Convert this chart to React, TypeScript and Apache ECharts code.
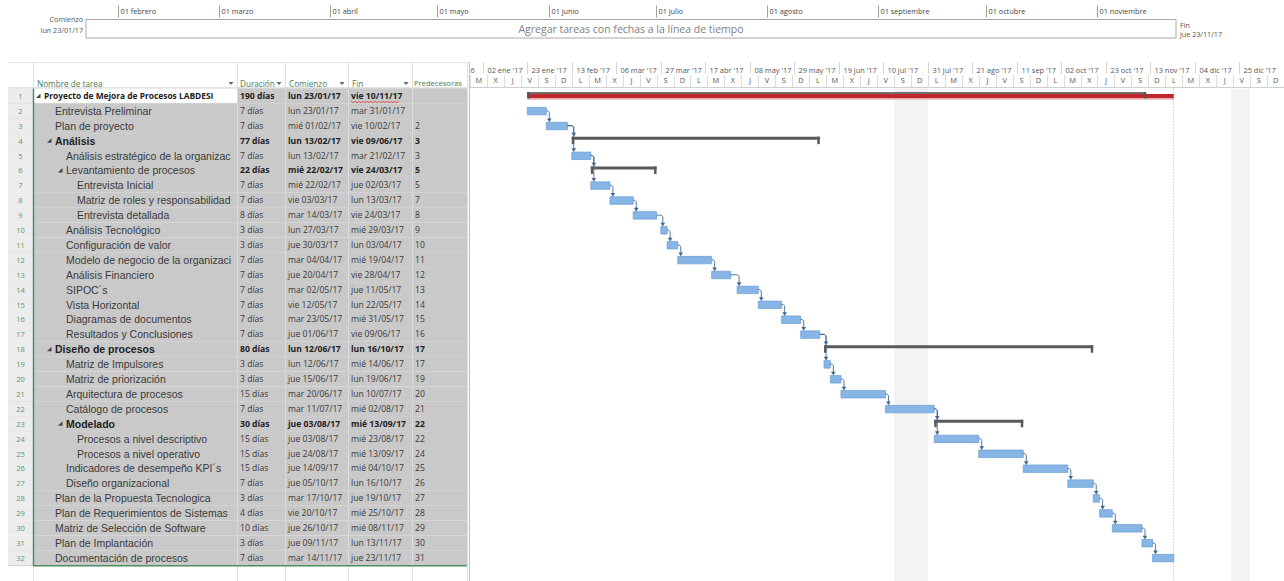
import React, { useEffect, useRef } from 'react';
import * as echarts from 'echarts';

// ---------------- DATA ----------------
const taskNames = [
  'Proyecto de Mejora de Procesos LABDESI',
  'Entrevista Preliminar',
  'Plan de proyecto',
  'Análisis',
  'Análisis estratégico de la organizac',
  'Levantamiento de procesos',
  'Entrevista Inicial',
  'Matriz de roles y responsabilidad',
  'Entrevista detallada',
  'Análisis Tecnológico',
  'Configuración de valor',
  'Modelo de negocio de la organizaci',
  'Análisis Financiero',
  'SIPOC´s',
  'Vista Horizontal',
  'Diagramas de documentos',
  'Resultados y Conclusiones',
  'Diseño de procesos',
  'Matriz de Impulsores',
  'Matriz de priorización',
  'Arquitectura de procesos',
  'Catálogo de procesos',
  'Modelado',
  'Procesos a nivel descriptivo',
  'Procesos a nivel operativo',
  'Indicadores de desempeño KPI´s',
  'Diseño organizacional',
  'Plan de la Propuesta Tecnologica',
  'Plan de Requerimientos de Sistemas',
  'Matriz de Selección de Software',
  'Plan de Implantación',
  'Documentación de procesos',
];
const taskLevels = [0, 1, 1, 1, 2, 2, 3, 3, 3, 2, 2, 2, 2, 2, 2, 2, 2, 1, 2, 2, 2, 2, 2, 3, 3, 2, 2, 1, 1, 1, 1, 1];
const summaryFlags = [1, 0, 0, 1, 0, 1, 0, 0, 0, 0, 0, 0, 0, 0, 0, 0, 0, 1, 0, 0, 0, 0, 1, 0, 0, 0, 0, 0, 0, 0, 0, 0];
const boldNameFlags = [1, 0, 0, 1, 0, 0, 0, 0, 0, 0, 0, 0, 0, 0, 0, 0, 0, 1, 0, 0, 0, 0, 1, 0, 0, 0, 0, 0, 0, 0, 0, 0];
const durations = ['190 días', '7 días', '7 días', '77 días', '7 días', '22 días', '7 días', '7 días', '8 días', '3 días', '3 días', '7 días', '7 días', '7 días', '7 días', '7 días', '7 días', '80 días', '3 días', '3 días', '15 días', '7 días', '30 días', '15 días', '15 días', '15 días', '7 días', '3 días', '4 días', '10 días', '3 días', '7 días'];
const startLabels = ['lun 23/01/17', 'lun 23/01/17', 'mié 01/02/17', 'lun 13/02/17', 'lun 13/02/17', 'mié 22/02/17', 'mié 22/02/17', 'vie 03/03/17', 'mar 14/03/17', 'lun 27/03/17', 'jue 30/03/17', 'mar 04/04/17', 'jue 20/04/17', 'mar 02/05/17', 'vie 12/05/17', 'mar 23/05/17', 'jue 01/06/17', 'lun 12/06/17', 'lun 12/06/17', 'jue 15/06/17', 'mar 20/06/17', 'mar 11/07/17', 'jue 03/08/17', 'jue 03/08/17', 'jue 24/08/17', 'jue 14/09/17', 'jue 05/10/17', 'mar 17/10/17', 'vie 20/10/17', 'jue 26/10/17', 'jue 09/11/17', 'mar 14/11/17'];
const finishLabels = ['vie 10/11/17', 'mar 31/01/17', 'vie 10/02/17', 'vie 09/06/17', 'mar 21/02/17', 'vie 24/03/17', 'jue 02/03/17', 'lun 13/03/17', 'vie 24/03/17', 'mié 29/03/17', 'lun 03/04/17', 'mié 19/04/17', 'vie 28/04/17', 'jue 11/05/17', 'lun 22/05/17', 'mié 31/05/17', 'vie 09/06/17', 'lun 16/10/17', 'mié 14/06/17', 'lun 19/06/17', 'lun 10/07/17', 'mié 02/08/17', 'mié 13/09/17', 'mié 23/08/17', 'mié 13/09/17', 'mié 04/10/17', 'lun 16/10/17', 'jue 19/10/17', 'mié 25/10/17', 'mié 08/11/17', 'lun 13/11/17', 'jue 23/11/17'];
const predecessors = ['', '', '2', '3', '3', '5', '5', '7', '8', '9', '10', '11', '12', '13', '14', '15', '16', '17', '17', '19', '20', '21', '22', '22', '24', '25', '26', '27', '28', '29', '30', '31'];
const headerLabels = ['Nombre de tarea', 'Duración', 'Comienzo', 'Fin', 'Predecesoras'];

const timelineStartLabel = 'lun 23/01/17';
const timelineFinishLabel = 'jue 23/11/17';
const timelinePlaceholder = 'Agregar tareas con fechas a la línea de tiempo';
const monthTicks: [string, string][] = [
  ['2017-02-01', '01 febrero'], ['2017-03-01', '01 marzo'], ['2017-04-01', '01 abril'],
  ['2017-05-01', '01 mayo'], ['2017-06-01', '01 junio'], ['2017-07-01', '01 julio'],
  ['2017-08-01', '01 agosto'], ['2017-09-01', '01 septiembre'], ['2017-10-01', '01 octubre'],
  ['2017-11-01', '01 noviembre'],
];
const majorTicks: [string, string][] = [
  ['2016-12-12', "12 dic '16"], ['2017-01-02', "02 ene '17"], ['2017-01-23', "23 ene '17"],
  ['2017-02-13', "13 feb '17"], ['2017-03-06', "06 mar '17"], ['2017-03-27', "27 mar '17"],
  ['2017-04-17', "17 abr '17"], ['2017-05-08', "08 may '17"], ['2017-05-29', "29 may '17"],
  ['2017-06-19', "19 jun '17"], ['2017-07-10', "10 jul '17"], ['2017-07-31', "31 jul '17"],
  ['2017-08-21', "21 ago '17"], ['2017-09-11', "11 sep '17"], ['2017-10-02', "02 oct '17"],
  ['2017-10-23', "23 oct '17"], ['2017-11-13', "13 nov '17"], ['2017-12-04', "04 dic '17"],
  ['2017-12-25', "25 dic '17"],
];
const weekdayLetters = ['D', 'L', 'M', 'X', 'J', 'V', 'S'];
const nonWorkingPeriods: [string, string][] = [['2017-07-15', '2017-07-31'], ['2017-12-21', '2017-12-30']];
const ganttRange: [string, string] = ['2016-12-27', '2018-01-15'];
const minorStepDays = 8;

// ---------------- HELPERS ----------------
const DAY = 86400000;
const iso = (s: string) => { const [y, m, d] = s.split('-').map(Number); return Date.UTC(y, m - 1, d); };
const parseLabel = (s: string) => { const d = s.split(' ')[1]; const [dd, mm, yy] = d.split('/').map(Number); return Date.UTC(2000 + yy, mm - 1, dd); };

const W = 1284, H = 581;
const ROW_TOP = 88.5, ROW_H = 14.9, NROWS = taskNames.length;
const GL = 470, GW = 814;
const TL_L = 86, TL_T = 19.5, TL_W = 1090, TL_H = 18.5;
const COLS = [33, 237, 285, 348, 412, 467];
const UI = '"Open Sans", "Noto Sans", sans-serif';
const NAMEF = '"Liberation Sans", Arial, sans-serif';
const TXT = '#333333';
const BLUE_F = '#86b5e6', BLUE_S = '#6a9dd2', LINK = '#44698f', SUMC = '#5a5a5a';

const txt = (text: string, x: number, y: number, o: any = {}) => ({
  type: 'text', x, y, silent: true, z2: o.z2 ?? 5,
  style: {
    text, fill: o.fill ?? TXT, fontSize: o.size ?? 9, fontFamily: o.family ?? UI,
    fontWeight: o.weight ?? 'normal', align: o.align ?? 'left', verticalAlign: 'middle',
    ...(o.width ? { width: o.width, overflow: 'truncate', ellipsis: '' } : {}),
  },
});
const ln = (x1: number, y1: number, x2: number, y2: number, stroke: string, lw = 1, extra: any = {}) => ({
  type: 'line', silent: true, shape: { x1, y1, x2, y2 }, style: { stroke, lineWidth: lw, ...extra },
});

function buildOption() {
  const rowCats = taskNames.map((_, i) => String(i + 1));
  const axisMin = iso(ganttRange[0]), axisMax = iso(ganttRange[1]);
  const tlMin = parseLabel(timelineStartLabel), tlMax = parseLabel(timelineFinishLabel);
  const projectEnd = parseLabel(timelineFinishLabel) + DAY;

  const barData = taskNames.map((_, i) => {
    const s = parseLabel(startLabels[i]);
    const e = parseLabel(finishLabels[i]) + DAY;
    const kind = i === 0 ? 2 : summaryFlags[i] ? 1 : 0;
    return [i, s, e, kind, i === 0 ? projectEnd : e];
  });
  const linkData: number[][] = [];
  predecessors.forEach((p, i) => {
    if (!p) return;
    const pr = Number(p) - 1;
    linkData.push([pr, parseLabel(finishLabels[pr]) + DAY, i, parseLabel(startLabels[i]), summaryFlags[i]]);
  });
  const minorCells: number[][] = [];
  for (let t = axisMin; t < axisMax; t += minorStepDays * DAY) minorCells.push([t, 0]);

  const g: any[] = [];
  g.push({ type: 'rect', shape: { x: TL_L, y: TL_T, width: TL_W, height: TL_H }, style: { fill: '#fff', stroke: '#a8a8a8', lineWidth: 1 }, silent: true });
  g.push(txt(timelinePlaceholder, TL_L + TL_W / 2, TL_T + TL_H / 2 + 0.5, { size: 10.5, fill: '#808080', align: 'center' }));
  g.push(txt('Comienzo', 83, 19, { size: 7.2, fill: '#555', align: 'right' }));
  g.push(txt(timelineStartLabel, 83, 30, { size: 7.2, fill: '#555', align: 'right' }));
  g.push(txt('Fin', 1180, 25, { size: 7.2, fill: '#555' }));
  g.push(txt(timelineFinishLabel, 1180, 33.5, { size: 7.2, fill: '#555' }));
  g.push(ln(8, 62.5, 467, 62.5, '#e4e4e4'));
  COLS.forEach((x) => g.push(ln(x + 0.5, 62, x + 0.5, 88, '#dedede')));
  g.push(ln(8, 88, 467, 88, '#c8c8c8'));
  const hx = [37, 240, 289, 352, 414];
  headerLabels.forEach((h, k) => g.push(txt(h, hx[k], 83, { size: k === 4 ? 7.6 : 8.2, fill: '#4a7d58' })));
  [231, 279, 342, 406].forEach((x) => g.push({ type: 'polygon', silent: true, shape: { points: [[x - 2.5, 82], [x + 2.5, 82], [x, 85]] }, style: { fill: '#666' } }));
  g.push(ln(GL, 87.5, W, 87.5, '#cfcfcf'));
  g.push(ln(469.5, 62, 469.5, H, '#c4c4c4'));
  COLS.forEach((x) => g.push(ln(x + 0.5, ROW_TOP + NROWS * ROW_H, x + 0.5, H, '#e2e2e2')));
  g.push({ ...ln(33.5, ROW_TOP, 33.5, ROW_TOP + NROWS * ROW_H + 0.5, '#4f8f5f', 1.5), z: 10 });
  g.push({ ...ln(33, ROW_TOP + NROWS * ROW_H + 0.5, 467, ROW_TOP + NROWS * ROW_H + 0.5, '#4f8f5f', 1.5), z: 10 });

  return {
    animation: false,
    backgroundColor: '#ffffff',
    grid: [
      { left: GL, top: ROW_TOP, width: GW, height: NROWS * ROW_H },
      { left: GL, top: 62, width: GW, height: 26 },
      { left: TL_L, top: TL_T, width: TL_W, height: TL_H },
      { left: 8, top: ROW_TOP, width: 459, height: NROWS * ROW_H },
    ],
    xAxis: [
      { gridIndex: 0, type: 'time', min: axisMin, max: axisMax, show: false },
      { gridIndex: 1, type: 'time', min: axisMin, max: axisMax, show: false },
      { gridIndex: 2, type: 'time', min: tlMin, max: tlMax, show: false },
      { gridIndex: 3, type: 'value', min: 0, max: 459, show: false },
    ],
    yAxis: [
      { gridIndex: 0, type: 'category', data: rowCats, inverse: true, show: false },
      { gridIndex: 1, type: 'value', min: 0, max: 1, show: false },
      { gridIndex: 2, type: 'value', min: 0, max: 1, show: false },
      { gridIndex: 3, type: 'category', data: rowCats, inverse: true, show: false },
    ],
    graphic: { elements: g },
    series: [
      {
        type: 'custom', xAxisIndex: 0, yAxisIndex: 0, clip: false, silent: true, z: 1,
        data: nonWorkingPeriods.map(([a, b]) => [iso(a), iso(b), 0]),
        encode: { x: [0, 1], y: 2 },
        renderItem: (params: any, api: any) => {
          const x0 = api.coord([api.value(0), 0])[0];
          const x1 = api.coord([api.value(1), 0])[0];
          const cs = params.coordSys;
          return { type: 'rect', shape: { x: x0, y: cs.y, width: x1 - x0, height: H - cs.y }, style: { fill: '#f3f3f3' } };
        },
      },
      {
        type: 'custom', xAxisIndex: 0, yAxisIndex: 0, clip: false, silent: true, z: 1,
        data: [[projectEnd, 0]],
        encode: { x: 0, y: 1 },
        renderItem: (params: any, api: any) => {
          const x = Math.round(api.coord([api.value(0), 0])[0]) - 0.5;
          const cs = params.coordSys;
          return ln(x, cs.y, x, H, '#b5b5b5', 1, { lineDash: [1, 2] });
        },
      },
      {
        type: 'custom', xAxisIndex: 0, yAxisIndex: 0, clip: false, silent: true, z: 3,
        data: barData,
        encode: { x: [1, 2], y: 0 },
        renderItem: (params: any, api: any) => {
          const i = api.value(0), s = api.value(1), e = api.value(2), k = api.value(3), red = api.value(4);
          const [x0, cy] = api.coord([s, i]);
          const x1 = api.coord([e, i])[0];
          if (k === 0) {
            return { type: 'rect', shape: { x: x0, y: cy - 3.5, width: x1 - x0, height: 7.5 }, style: { fill: BLUE_F, stroke: BLUE_S, lineWidth: 0.7 } };
          }
          const summary = (yTop: number, col: string) => [
            { type: 'rect', shape: { x: x0, y: yTop, width: x1 - x0, height: 3 }, style: { fill: col } },
            { type: 'rect', shape: { x: x0, y: yTop, width: 2.5, height: 7.5 }, style: { fill: col } },
            { type: 'rect', shape: { x: x1 - 2.5, y: yTop, width: 2.5, height: 7.5 }, style: { fill: col } },
          ];
          if (k === 1) return { type: 'group', children: summary(cy - 4, SUMC) };
          const xr = api.coord([red, i])[0];
          return {
            type: 'group',
            children: [
              { type: 'rect', shape: { x: x0, y: cy - 2, width: xr - x0, height: 4.5 }, style: { fill: '#c4262e' } },
              { type: 'rect', shape: { x: x0, y: cy + 2.5, width: xr - x0, height: 1.5 }, style: { fill: '#f1c6c8' } },
              { type: 'rect', shape: { x: x0, y: cy - 4, width: x1 - x0, height: 2 }, style: { fill: '#707070' } },
              { type: 'rect', shape: { x: x0, y: cy - 4, width: 2.5, height: 6.5 }, style: { fill: '#555' } },
              { type: 'rect', shape: { x: x1 - 2.5, y: cy - 4, width: 2.5, height: 6.5 }, style: { fill: '#555' } },
            ],
          };
        },
      },
      {
        type: 'custom', xAxisIndex: 0, yAxisIndex: 0, clip: false, silent: true, z: 4,
        data: linkData,
        encode: { x: [1, 3], y: [0, 2] },
        renderItem: (params: any, api: any) => {
          const pr = api.value(0), pe = api.value(1), sr = api.value(2), ss = api.value(3), sk = api.value(4);
          const [xe, yp] = api.coord([pe, pr]);
          const [xs, ys] = api.coord([ss, sr]);
          const vx = Math.max(xe + 3, xs + 2);
          const top = sk === 1 ? ys - 4 : ys - 3.5;
          return {
            type: 'group',
            children: [
              { type: 'polyline', shape: { points: [[xe, yp], [vx - 1.5, yp], [vx, yp + 1.5], [vx, top - 3]] }, style: { stroke: LINK, lineWidth: 0.9, fill: null } },
              { type: 'polygon', shape: { points: [[vx - 2.3, top - 3.8], [vx + 2.3, top - 3.8], [vx, top]] }, style: { fill: LINK } },
            ],
          };
        },
      },
      {
        type: 'custom', xAxisIndex: 1, yAxisIndex: 1, clip: true, silent: true,
        data: majorTicks.map(([d]) => [iso(d), 0]),
        encode: { x: 0, y: 1 },
        renderItem: (params: any, api: any) => {
          const x = Math.round(api.coord([api.value(0), 0])[0]) + 0.5;
          const cs = params.coordSys;
          return {
            type: 'group',
            children: [
              ln(x, cs.y, x, cs.y + 12, '#d6d6d6'),
              txt(majorTicks[params.dataIndex][1], x + 4, cs.y + 7.5, { size: 7.4, fill: '#555' }),
            ],
          };
        },
      },
      {
        type: 'custom', xAxisIndex: 1, yAxisIndex: 1, clip: true, silent: true,
        data: minorCells,
        encode: { x: 0, y: 1 },
        renderItem: (params: any, api: any) => {
          const t = api.value(0);
          const x0 = Math.round(api.coord([t, 0])[0]) + 0.5;
          const x1 = api.coord([t + minorStepDays * DAY, 0])[0];
          const cs = params.coordSys;
          const letter = weekdayLetters[new Date(t).getUTCDay()];
          return {
            type: 'group',
            children: [
              ln(x0, cs.y + 13, x0, cs.y + cs.height - 1, '#dcdcdc'),
              txt(letter, (x0 + x1) / 2, cs.y + 18, { size: 7.4, fill: '#555', align: 'center' }),
            ],
          };
        },
      },
      {
        type: 'custom', xAxisIndex: 2, yAxisIndex: 2, clip: false, silent: true,
        data: monthTicks.map(([d]) => [iso(d), 0]),
        encode: { x: 0, y: 1 },
        renderItem: (params: any, api: any) => {
          const x = Math.round(api.coord([api.value(0), 0])[0]) + 0.5;
          const cs = params.coordSys;
          return {
            type: 'group',
            children: [
              ln(x, cs.y - 14, x, cs.y - 2, '#a0a0a0'),
              txt(monthTicks[params.dataIndex][1], x + 2, cs.y - 8.5, { size: 7.3, fill: '#444' }),
            ],
          };
        },
      },
      {
        type: 'custom', xAxisIndex: 3, yAxisIndex: 3, clip: false, silent: true, z: 2,
        data: taskNames.map((_, i) => [0, i]),
        encode: { x: 0, y: 1 },
        renderItem: (params: any, api: any) => {
          const i = api.value(1);
          const cy = api.coord([0, i])[1];
          const h = api.size([0, 1])[1];
          const top = cy - h / 2, bot = cy + h / 2;
          const isSum = summaryFlags[i] === 1;
          const bName = boldNameFlags[i] === 1;
          const lvl = taskLevels[i];
          const ch: any[] = [];
          ch.push({ type: 'rect', shape: { x: 8, y: top, width: 25, height: h }, style: { fill: '#ececec' } });
          ch.push({ type: 'rect', shape: { x: 33, y: top, width: 434, height: h }, style: { fill: '#c9c9c9' } });
          if (i === 0) ch.push({ type: 'rect', shape: { x: 34, y: top, width: 203, height: h }, style: { fill: '#ffffff' } });
          ch.push(ln(8, Math.round(bot) + 0.5, 33, Math.round(bot) + 0.5, '#d4d4d4'));
          ch.push(ln(33, Math.round(bot) + 0.5, 467, Math.round(bot) + 0.5, '#dadada'));
          COLS.slice(1).forEach((x) => ch.push(ln(x + 0.5, top, x + 0.5, bot, '#dcdcdc')));
          ch.push(txt(String(i + 1), 20.5, cy, { size: 7.6, fill: '#5a9a66', align: 'center' }));
          const tx = 44 + lvl * 11;
          if (isSum) {
            const ax = tx - 8;
            ch.push({ type: 'polygon', shape: { points: [[ax + 4.5, cy - 2.5], [ax + 4.5, cy + 2], [ax, cy + 2]] }, style: { fill: '#444' } });
          }
          if (i === 0) {
            ch.push(txt(taskNames[i], tx, cy, { size: 8.4, weight: 'bold', fill: '#222', width: 236 - tx }));
          } else {
            ch.push(txt(taskNames[i], tx, cy, { size: 10.5, family: NAMEF, weight: bName ? 'bold' : 'normal', fill: bName ? '#222' : '#3a3a3a', width: 237 - tx }));
          }
          const w = isSum ? 'bold' : 'normal';
          const f = isSum ? '#222' : '#3a3a3a';
          ch.push(txt(durations[i], 240, cy, { size: 8.6, weight: w, fill: f }));
          ch.push(txt(startLabels[i], 288, cy, { size: 8.6, weight: w, fill: f }));
          ch.push(txt(finishLabels[i], 351, cy, { size: 8.6, weight: w, fill: f }));
          ch.push(txt(predecessors[i], 415, cy, { size: 8.6, weight: w, fill: f }));
          if (i === 0) {
            const pts: number[][] = [];
            for (let x = 351, k = 0; x <= 399; x += 2, k++) pts.push([x, cy + 5.5 + (k % 2 ? 1.2 : 0)]);
            ch.push({ type: 'polyline', shape: { points: pts }, style: { stroke: '#e03a3a', lineWidth: 0.8, fill: null } });
          }
          return { type: 'group', children: ch };
        },
      },
    ],
  };
}

export default function App() {
  const ref = useRef<HTMLDivElement>(null);
  useEffect(() => {
    document.body.style.margin = '0';
    const chart = echarts.init(ref.current as HTMLDivElement, null, { renderer: 'svg' });
    chart.setOption(buildOption() as any);
    return () => chart.dispose();
  }, []);
  return <div ref={ref} style={{ width: W, height: H }} />;
}
